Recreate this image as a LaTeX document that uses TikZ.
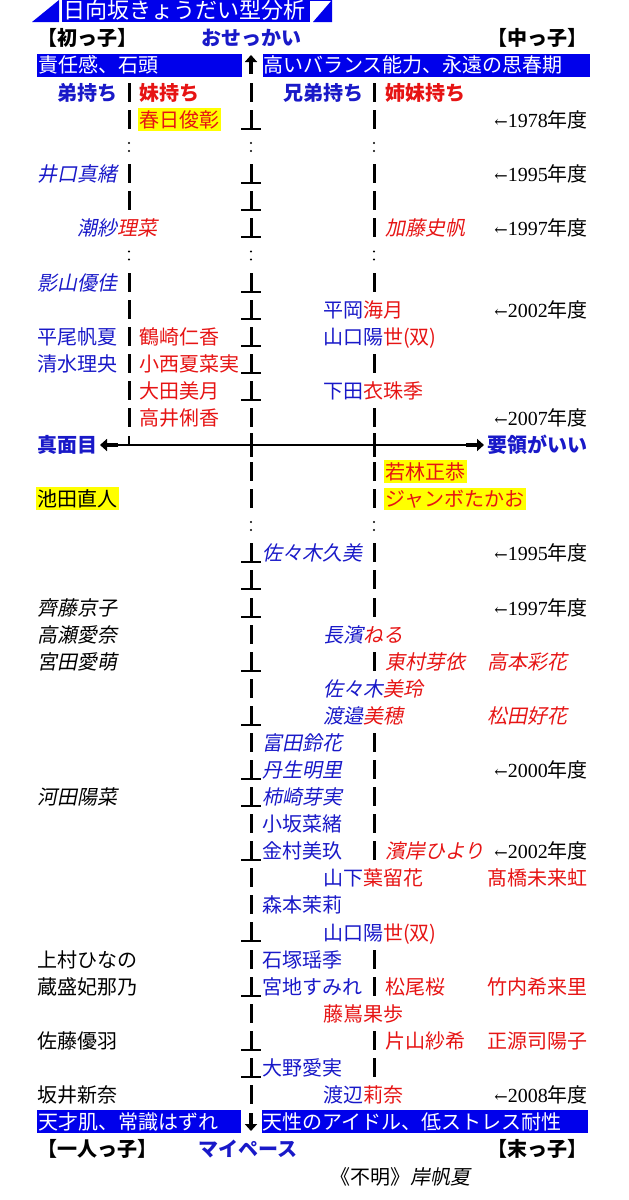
\documentclass[tikz,border=0pt]{standalone}
\usepackage{fontspec}
\usetikzlibrary{arrows.meta}
\newfontfamily\jp{Noto Sans CJK JP}
\newfontfamily\jpi{Noto Sans CJK JP}[FakeSlant=0.2]
\newfontfamily\ser{Liberation Serif}
\newfontfamily\arr{DejaVu Serif}
\definecolor{nb}{RGB}{25,25,200}
\definecolor{nr}{RGB}{230,20,20}
\definecolor{bb}{RGB}{0,0,235}
\definecolor{yl}{RGB}{255,255,0}
\newcommand\VB[2]{\draw[vbar] (#1,#2-10) -- (#1,#2+9);}
\newcommand\TB[2]{\draw[vbar] (#1,#2-10) -- (#1,#2+9); \draw[foot] (#1-10,#2+9) -- (#1+10,#2+9);}
\newcommand\DT[2]{\fill (#1,#2-4) circle[radius=1.1pt]; \fill (#1,#2+4) circle[radius=1.1pt];}
\newcommand\YR[1]{{\arr\fontsize{16}{16}\selectfont ←}{\ser\fontsize{20}{24}\selectfont #1}{\jp\fontsize{20}{24}\selectfont 年度}}
\tikzset{
 nm/.style={anchor=base west, inner sep=0pt, font=\jp\fontsize{20}{24}\selectfont},
 it/.style={font=\jpi\fontsize{20}{24}\selectfont},
 hd/.style={anchor=base west, inner sep=0pt, font=\jp\bfseries\fontsize{20}{24}\selectfont},
 yr/.style={anchor=base east, inner sep=0pt},
 hl/.style={fill=yl, inner xsep=1.5pt, inner ysep=2pt},
 vbar/.style={line width=3pt},
 foot/.style={line width=2pt},
 bigarrow/.style={line width=4pt,-{Triangle[length=7pt,width=12pt]}},
}
\begin{document}
\begin{tikzpicture}[x=1pt,y=-1pt]
\useasboundingbox (0,0) rectangle (629,1200);
% title banner
\fill[bb] (32,22) -- (59,0) -- (59,22) -- cycle;
\fill[bb] (62,0) rectangle (310,22);
\fill[bb] (313,22) -- (332,0) -- (332,22) -- cycle;
\draw[bb,line width=0.8pt] (310,0.4) -- (331.6,0.4) -- (331.6,22);
\node[anchor=base west, inner sep=0pt, text=white, font=\jp\fontsize{22}{24}\selectfont] (title) at (63,18) {日向坂きょうだい型分析};
% header
\node[hd] (hatsu) at (37,45) {【初っ子】};
\node[hd, anchor=base, text=nb] (osekkai) at (251,45) {おせっかい};
\node[hd, anchor=base east] (naka) at (588,45) {【中っ子】};
\fill[bb] (37,54) rectangle (242,77);
\fill[bb] (263,54) rectangle (590,77);
\node[nm, text=white] (sekinin) at (38,72) {責任感、石頭};
\node[nm, text=white] (takai) at (263,72) {高いバランス能力、永遠の思春期};
\coordinate (upA) at (251,74); \coordinate (upB) at (251,55);
\draw[bigarrow] (upA) -- (upB);
% row 0
\node[hd,text=nb] (otouto) at (57,100) {弟持ち};
\node[hd,text=nr] (imouto) at (139,100) {妹持ち};
\node[hd,text=nb] (kyoudai) at (283,100) {兄弟持ち};
\node[hd,text=nr] (shimai) at (385,100) {姉妹持ち};
\VB{129}{93} \VB{251}{93} \VB{374}{93}
% row 1
\node[nm,hl,text=nr] (kasuga) at (137.5,127) {春日俊彰};
\node[yr] (y1978) at (588,127) {\YR{1978}};
\VB{129}{120} \TB{251}{120} \VB{374}{120}
\DT{129}{147} \DT{251}{147} \DT{374}{147}
% row 3
\node[nm,it,text=nb] (iguchi) at (37,181) {井口真緒};
\node[yr] (y1995a) at (588,181) {\YR{1995}};
\VB{129}{174} \TB{251}{174} \VB{374}{174}
\VB{129}{201} \TB{251}{201} \VB{374}{201}
% row 5
\node[nm,it] (ushio) at (77,235) {\color{nb}潮紗\color{nr}理菜};
\node[nm,it,text=nr] (katoshi) at (385,235) {加藤史帆};
\node[yr] (y1997a) at (588,235) {\YR{1997}};
\TB{251}{228} \VB{374}{228}
\DT{129}{255.5} \DT{251}{255.5} \DT{374}{255.5}
% row 7
\node[nm,it,text=nb] (kageyama) at (37,290) {影山優佳};
\VB{129}{283} \TB{251}{283} \VB{374}{283}
% row 8
\node[nm] (hiraoka) at (323,317) {\color{nb}平岡\color{nr}海月};
\node[yr] (y2002a) at (588,317) {\YR{2002}};
\VB{129}{310} \TB{251}{310}
% row 9
\node[nm,text=nb] (hirao) at (37,344) {平尾帆夏};
\node[nm,text=nr] (tsurusaki) at (139,344) {鶴崎仁香};
\node[nm] (yamaguchiA) at (323,344) {\color{nb}山口陽\color{nr}世(双)};
\VB{129}{337} \TB{251}{337}
% row 10
\node[nm,text=nb] (shimizu) at (37,371) {清水理央};
\node[nm,text=nr] (konishi) at (139,371) {小西夏菜実};
\VB{129}{364} \TB{251}{364} \VB{374}{364}
% row 11
\node[nm,text=nr] (ota) at (139,398) {大田美月};
\node[nm] (shimoda) at (323,398) {\color{nb}下田\color{nr}衣珠季};
\VB{129}{391} \TB{251}{391}
% row 12
\node[nm,text=nr] (takai2) at (139,425) {高井俐香};
\node[yr] (y2007) at (588,425) {\YR{2007}};
\VB{129}{418} \VB{251}{418} \VB{374}{418}
% axis
\node[hd,text=nb] (majime) at (37,452) {真面目};
\node[hd,text=nb] (yoryo) at (487,452) {要領がいい};
\coordinate (axL) at (118,445); \coordinate (axR) at (466,445);
\coordinate (tipL) at (100,445); \coordinate (tipR) at (484,445);
\draw[line width=2pt] (axL) -- (axR);
\draw[bigarrow] (axL) -- (tipL);
\draw[bigarrow] (axR) -- (tipR);
\draw[line width=2pt] (129,436) -- (129,445);
\draw[vbar] (251,433) -- (251,457);
\draw[vbar] (374,433) -- (374,457);
% row 14
\node[nm,hl,text=nr] (wakabayashi) at (383.5,479) {若林正恭};
\VB{251}{472} \VB{374}{472}
% row 15
\node[nm,hl] (ikeda) at (35.5,506) {池田直人};
\node[nm,hl,text=nr] (jumbo) at (383.5,506) {ジャンボたかお};
\VB{251}{499} \VB{374}{499}
\DT{251}{526} \DT{374}{526}
% row 17
\node[nm,it,text=nb] (sasakiK) at (262,560) {佐々木久美};
\node[yr] (y1995b) at (588,560) {\YR{1995}};
\TB{251}{553} \VB{374}{553}
\TB{251}{580} \VB{374}{580}
% row 19
\node[nm,it] (saito) at (37,615) {齊藤京子};
\node[yr] (y1997b) at (588,615) {\YR{1997}};
\TB{251}{608} \VB{374}{608}
% row 20
\node[nm,it] (takase) at (37,642) {高瀬愛奈};
\node[nm,it] (nagahama) at (323,642) {\color{nb}長濱\color{nr}ねる};
\VB{251}{635}
% row 21
\node[nm,it] (miyata) at (37,669) {宮田愛萌};
\node[nm,it,text=nr] (higashimura) at (385,669) {東村芽依};
\node[nm,it,text=nr] (takamoto) at (487,669) {高本彩花};
\TB{251}{662} \VB{374}{662}
% row 22
\node[nm,it] (sasakiM) at (323,696) {\color{nb}佐々木\color{nr}美玲};
\VB{251}{689}
% row 23
\node[nm,it] (watanabeM) at (323,723) {\color{nb}渡邉\color{nr}美穂};
\node[nm,it,text=nr] (matsuda) at (487,723) {松田好花};
\TB{251}{716}
% row 24
\node[nm,it,text=nb] (tomita) at (262,750) {富田鈴花};
\VB{251}{743} \VB{374}{743}
% row 25
\node[nm,it,text=nb] (nibu) at (262,777) {丹生明里};
\node[yr] (y2000) at (588,777) {\YR{2000}};
\TB{251}{770} \VB{374}{770}
% row 26
\node[nm,it] (kawata) at (37,804) {河田陽菜};
\node[nm,it,text=nb] (kakizaki) at (262,804) {柿崎芽実};
\TB{251}{797} \VB{374}{797}
% row 27
\node[nm,text=nb] (kosaka) at (262,831) {小坂菜緒};
\VB{251}{824} \VB{374}{824}
% row 28
\node[nm,text=nb] (kanemura) at (262,858) {金村美玖};
\node[nm,it,text=nr] (hamagishi) at (385,858) {濱岸ひより};
\node[yr] (y2002b) at (588,858) {\YR{2002}};
\TB{251}{851} \VB{374}{851}
% row 29
\node[nm] (yamashita) at (323,885) {\color{nb}山下\color{nr}葉留花};
\node[nm,text=nr] (takahashi) at (487,885) {髙橋未来虹};
\VB{251}{878}
% row 30
\node[nm,text=nb] (morimoto) at (262,912) {森本茉莉};
\VB{251}{905}
% row 31
\node[nm] (yamaguchiB) at (323,940) {\color{nb}山口陽\color{nr}世(双)};
\TB{251}{932}
% row 32
\node[nm] (kamimura) at (37,967) {上村ひなの};
\node[nm,text=nb] (ishizuka) at (262,967) {石塚瑶季};
\VB{251}{960} \VB{374}{960}
% row 33
\node[nm] (kuramori) at (37,994) {蔵盛妃那乃};
\node[nm,text=nb] (miyachi) at (262,994) {宮地すみれ};
\node[nm,text=nr] (matsuo) at (385,994) {松尾桜};
\node[nm,text=nr] (takeuchi) at (487,994) {竹内希来里};
\TB{251}{987} \VB{374}{987}
% row 34
\node[nm,text=nr] (fujishima) at (323,1021) {藤嶌果歩};
\VB{251}{1014}
% row 35
\node[nm] (sato) at (37,1048) {佐藤優羽};
\node[nm,text=nr] (katayama) at (385,1048) {片山紗希};
\node[nm,text=nr] (shogenji) at (487,1048) {正源司陽子};
\TB{251}{1041} \VB{374}{1041}
% row 36
\node[nm,text=nb] (ono) at (262,1075) {大野愛実};
\TB{251}{1068} \VB{374}{1068}
% row 37
\node[nm] (sakai) at (37,1102) {坂井新奈};
\node[nm] (watanabeR) at (323,1102) {\color{nb}渡辺\color{nr}莉奈};
\node[yr] (y2008) at (588,1102) {\YR{2008}};
\VB{251}{1095}
% bottom bars
\fill[bb] (37,1110) rectangle (241,1133);
\fill[bb] (262,1110) rectangle (588,1133);
\node[nm,text=white] (tensai) at (38,1129) {天才肌、常識はずれ};
\node[nm,text=white] (tensei) at (262,1129) {天性のアイドル、低ストレス耐性};
\coordinate (dnA) at (251,1113); \coordinate (dnB) at (251,1131);
\draw[bigarrow] (dnA) -- (dnB);
% footer
\node[hd] (hitori) at (37,1156) {【一人っ子】};
\node[hd,anchor=base,text=nb] (mypace) at (248,1156) {マイペース};
\node[hd,anchor=base east] (sue) at (588,1156) {【末っ子】};
\node[nm] (fumei) at (330,1184) {《不明》{\jpi 岸帆夏}};
\end{tikzpicture}
\end{document}
